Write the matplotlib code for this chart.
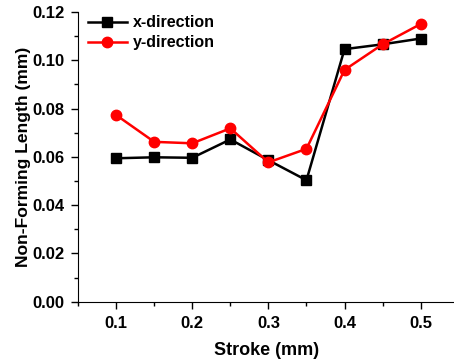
import matplotlib
matplotlib.use("Agg")
import matplotlib.pyplot as plt
from matplotlib.ticker import MultipleLocator

stroke = [0.10, 0.15, 0.20, 0.25, 0.30, 0.35, 0.40, 0.45, 0.50]
x_dir = [0.0594, 0.0598, 0.0596, 0.0672, 0.0586, 0.0503, 0.1046, 0.1066, 0.1090]
y_dir = [0.0773, 0.0662, 0.0656, 0.0718, 0.0577, 0.0633, 0.0960, 0.1066, 0.1150]

plt.rcParams['font.family'] = ['Liberation Sans', 'DejaVu Sans']
plt.rcParams['font.weight'] = 'bold'

fig = plt.figure(figsize=(4.54, 3.63), dpi=100)
ax = fig.add_axes([0.172, 0.169, 0.83, 0.798])

ax.plot(stroke, x_dir, color='black', marker='s', markersize=7, linewidth=1.8,
        label='x-direction')
ax.plot(stroke, y_dir, color='red', marker='o', markersize=7.5, linewidth=1.8,
        label='y-direction')

ax.set_xlim(0.05, 0.545)
ax.set_ylim(0.0, 0.12)
ax.xaxis.set_minor_locator(MultipleLocator(0.05))
ax.yaxis.set_major_locator(MultipleLocator(0.02))
ax.yaxis.set_minor_locator(MultipleLocator(0.01))
ax.set_xticks([0.1, 0.2, 0.3, 0.4, 0.5])
ax.set_xticklabels(['0.1', '0.2', '0.3', '0.4', '0.5'])
ax.yaxis.set_major_formatter(plt.FormatStrFormatter('%.2f'))

ax.spines['top'].set_visible(False)
ax.spines['right'].set_visible(False)
ax.tick_params(which='major', direction='out', length=5, width=1, labelsize=12, pad=5)
ax.tick_params(which='minor', direction='out', length=3, width=1)

ax.set_xlabel('Stroke (mm)', fontsize=13, fontweight='bold', labelpad=8)
ax.set_ylabel('Non-Forming Length (mm)', fontsize=12.6, fontweight='bold', labelpad=1)

ax.legend(loc='upper left', frameon=False, fontsize=11.5, handlelength=2.4,
          bbox_to_anchor=(0.01, 1.01), borderaxespad=0.0, labelspacing=0.3,
          handletextpad=0.4)

fig.savefig('out.png', dpi=100)
